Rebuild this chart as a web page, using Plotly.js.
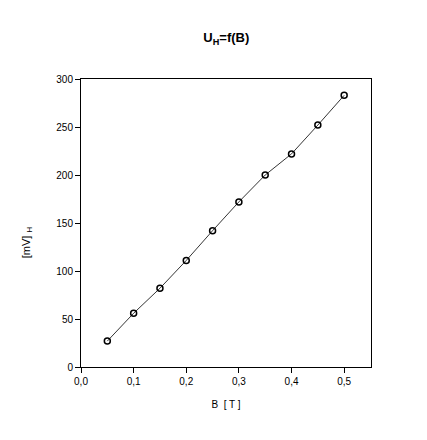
<!DOCTYPE html>
<html>
<head>
<meta charset="utf-8">
<script src="https://cdn.plot.ly/plotly-3.0.1.min.js"></script>
<style>html,body{margin:0;padding:0;background:#fff;}</style>
</head>
<body>
<div id="chart" style="width:427px;height:440px;"></div>
<script>
const fieldB = [0.05, 0.10, 0.15, 0.20, 0.25, 0.30, 0.35, 0.40, 0.45, 0.50];
const hallVoltage = [27, 56, 82, 111, 142, 172, 200, 222, 252, 283];
const xTickVals = [0, 0.1, 0.2, 0.3, 0.4, 0.5];
const yTickVals = [0, 50, 100, 150, 200, 250, 300];

const trace = {
  x: fieldB, y: hallVoltage,
  type: 'scatter', mode: 'lines+markers',
  line: {color: '#000', width: 0.8},
  marker: {symbol: 'circle-open', size: 6, color: '#000', line: {width: 1.5, color: '#000'}},
  showlegend: false
};

const font = {family: 'Liberation Sans, Arial, sans-serif', color: '#000'};
const layout = {
  width: 427, height: 440,
  margin: {l: 81, r: 56, t: 79, b: 73},
  paper_bgcolor: '#fff', plot_bgcolor: '#fff',
  separators: ', ',
  font: font,
  title: {text: '<b>U<sub>H</sub>=f(B)</b>', font: {family: font.family, size: 13, color: '#000'}, x: 0.53, xanchor: 'center', y: 0.915, yanchor: 'middle'},
  xaxis: {
    range: [0, 0.551], tickvals: xTickVals, tickformat: '.1f',
    showgrid: false, zeroline: false, showline: true, linecolor: '#000', linewidth: 1, mirror: true,
    ticks: 'outside', ticklen: 5, tickwidth: 1, tickcolor: '#000',
    tickfont: {family: font.family, size: 10, color: '#000'},
    title: {text: 'B  [ T ]', font: {family: font.family, size: 10, color: '#000'}, standoff: 14}
  },
  yaxis: {
    range: [0, 300], tickvals: yTickVals,
    showgrid: false, zeroline: false, showline: true, linecolor: '#000', linewidth: 1, mirror: true,
    ticks: 'outside', ticklen: 5, tickwidth: 1, tickcolor: '#000',
    tickfont: {family: font.family, size: 10, color: '#000'}
  },
  annotations: [{
    text: '[mV] <sub>H</sub>', textangle: -90, showarrow: false,
    xref: 'paper', yref: 'paper', x: -0.186, y: 0.43, xanchor: 'center', yanchor: 'middle',
    font: {family: font.family, size: 11, color: '#000'}
  }]
};
Plotly.newPlot('chart', [trace], layout, {staticPlot: true, displayModeBar: false});
</script>
</body>
</html>
